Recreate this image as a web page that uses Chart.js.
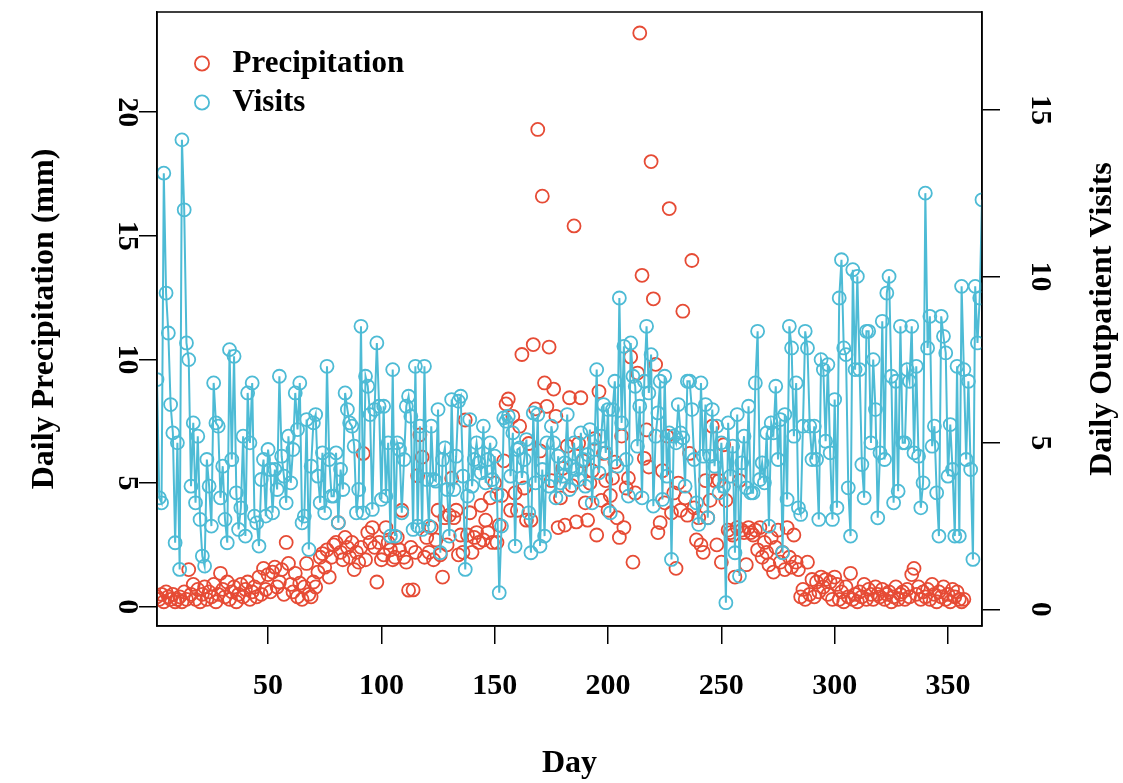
<!DOCTYPE html>
<html>
<head>
<meta charset="utf-8">
<script src="https://cdn.jsdelivr.net/npm/chart.js@4.4.1/dist/chart.umd.min.js"></script>
<style>
  html, body { margin: 0; padding: 0; background: #fff; }
  #wrap { width: 1123px; height: 783px; }
</style>
</head>
<body>
<div id="wrap"><canvas id="myChart" width="1123" height="783"></canvas></div>
<script>
/*-------------------------
values
--------------------------*/
var dayTicks = [50, 100, 150, 200, 250, 300, 350];
var precipTicks = [0, 5, 10, 15, 20];
var visitTicks = [0, 5, 10, 15];

// daily precipitation (mm), day 1..365
var precipitation = [
  0.4, 0.3, 0.5, 0.2, 0.6, 0.4, 0.3, 0.5, 0.2, 0.3,
  0.4, 0.2, 0.6, 0.3, 1.5, 0.5, 0.9, 0.3, 0.7, 0.2,
  0.5, 0.8, 0.3, 0.6, 0.4, 0.9, 0.2, 0.5, 1.35, 0.7,
  0.4, 1.0, 0.3, 0.6, 0.8, 0.2, 0.5, 0.9, 0.4, 0.7,
  1.0, 0.3, 0.6, 0.8, 0.4, 1.2, 0.5, 1.55, 0.7, 1.3,
  0.6, 1.4, 1.6, 0.8, 1.0, 1.5, 0.5, 2.6, 1.75, 0.9,
  0.6, 1.35, 0.4, 0.95, 0.3, 0.8, 1.75, 0.5, 0.4, 1.0,
  0.8, 1.4, 2.0, 2.15, 1.6, 2.3, 1.2, 2.0, 2.5, 2.6,
  3.4, 2.2, 1.9, 2.8, 2.4, 2.0, 2.6, 1.5, 2.2, 1.8,
  2.4, 6.2, 1.9, 3.0, 2.6, 3.2, 2.4, 1.0, 2.6, 1.9,
  2.1, 3.2, 2.6, 2.3, 1.9, 2.0, 2.8, 2.3, 3.9, 2.0,
  1.8, 0.67, 2.4, 0.68, 2.2, 5.3, 6.95, 6.05, 2.0, 2.8,
  2.2, 3.2, 1.9, 2.7, 3.9, 2.1, 1.2, 3.6, 2.5, 3.7,
  5.2, 3.6, 3.9, 2.1, 2.9, 2.2, 7.55, 2.9, 3.8, 2.2,
  2.8, 3.0, 2.6, 4.1, 2.7, 3.5, 3.0, 4.4, 2.6, 5.0,
  2.6, 3.3, 4.5, 5.9, 8.2, 8.4, 3.9, 7.7, 4.6, 3.9,
  7.3, 10.2, 4.8, 3.5, 6.6, 3.5, 10.6, 8.0, 19.3, 6.3,
  16.6, 9.05, 8.1, 10.5, 5.1, 8.8, 7.7, 3.2, 4.4, 5.6,
  3.3, 6.5, 8.45, 4.9, 15.4, 3.43, 6.6, 8.45, 5.9, 4.2,
  3.5, 5.0, 5.5, 6.8, 2.9, 8.7, 4.3, 6.2, 5.1, 3.9,
  4.5, 5.2, 5.85, 3.6, 2.8, 6.9, 3.2, 4.8, 5.2, 10.1,
  1.8, 4.6, 9.45, 23.2, 13.4, 6.0, 7.15, 5.65, 18.0, 12.45,
  9.8, 3.0, 3.4, 5.5, 4.2, 6.9, 16.1, 3.8, 4.6, 1.55,
  5.0, 3.9, 11.95, 4.4, 3.7, 6.2, 14.0, 4.0, 2.7, 3.6,
  2.5, 2.2, 5.1, 3.6, 4.3, 7.3, 5.1, 2.5, 5.1, 1.8,
  6.55, 4.3, 3.1, 3.0, 2.9, 1.2, 3.2, 5.1, 3.1, 3.0,
  1.7, 3.2, 3.0, 2.9, 3.1, 2.3, 3.2, 2.0, 2.6, 2.2,
  1.7, 2.8, 1.4, 2.4, 3.1, 1.8, 2.2, 1.5, 3.2, 2.0,
  1.6, 2.9, 1.8, 1.5, 0.4, 0.7, 0.3, 1.8, 0.5, 1.1,
  0.4, 1.0, 0.6, 1.2, 0.8, 1.1, 0.5, 1.0, 0.3, 1.2,
  0.9, 0.3, 0.6, 0.2, 0.8, 0.4, 1.35, 0.3, 0.5, 0.2,
  0.6, 0.4, 0.9, 0.3, 0.7, 0.5, 0.3, 0.8, 0.5, 0.4,
  0.7, 0.3, 0.5, 0.6, 0.2, 0.4, 0.8, 0.3, 0.5, 0.6,
  0.3, 0.7, 0.4, 1.3, 1.55, 0.5, 0.8, 0.3, 0.6, 0.4,
  0.7, 0.3, 0.9, 0.5, 0.2, 0.6, 0.4, 0.8, 0.3, 0.5,
  0.2, 0.7, 0.4, 0.6, 0.3, 0.2, 0.3, null, null, null,
  null, null, null, null, null
];

// daily outpatient visits, day 1..365
var visits = [
  6.9, 3.35, 3.2, 13.1, 9.5, 8.3, 6.15, 5.3, 2.0, 5.0,
  1.2, 14.1, 12.0, 8.0, 7.5, 3.7, 5.6, 3.2, 5.2, 2.7,
  1.6, 1.3, 4.5, 3.7, 2.5, 6.8, 5.6, 5.5, 3.35, 4.3,
  2.7, 2.0, 7.8, 4.5, 7.6, 3.5, 2.4, 3.05, 5.2, 2.2,
  6.5, 5.0, 6.8, 2.8, 2.6, 1.9, 3.9, 4.5, 2.8, 4.8,
  4.2, 2.9, 4.2, 3.6, 7.0, 4.6, 4.0, 3.2, 5.2, 3.8,
  4.8, 6.5, 5.4, 6.8, 2.6, 2.8, 5.7, 1.8, 4.3, 5.6,
  5.85, 4.0, 3.2, 4.7, 2.9, 7.3, 4.5, 3.4, 3.4, 4.7,
  2.6, 4.2, 3.6, 6.5, 6.0, 5.6, 5.5, 4.9, 2.9, 3.6,
  8.5, 2.9, 7.0, 6.7, 5.85, 3.0, 6.0, 8.0, 6.1, 3.3,
  6.1, 3.4, 5.0, 2.2, 7.2, 2.2, 5.0, 4.8, 2.9, 4.5,
  6.1, 6.4, 5.8, 2.4, 7.3, 2.5, 5.5, 2.4, 7.3, 3.9,
  2.5, 5.5, 3.9, 3.85, 6.0, 1.7, 4.5, 4.85, 3.6, 2.2,
  6.3, 3.6, 4.6, 6.25, 6.4, 4.0, 1.2, 3.4, 5.7, 3.7,
  4.5, 5.0, 4.4, 4.1, 5.5, 3.8, 4.5, 5.0, 3.9, 4.6,
  3.45, 0.5, 2.5, 5.75, 5.65, 5.8, 4.0, 5.3, 1.9, 4.8,
  4.85, 3.95, 4.5, 5.1, 2.9, 1.7, 5.9, 3.8, 5.85, 1.9,
  4.2, 2.2, 5.0, 3.7, 5.5, 5.0, 3.35, 4.6, 3.8, 4.0,
  4.4, 5.85, 3.6, 4.3, 5.0, 4.2, 3.9, 5.3, 4.5, 3.7,
  4.65, 5.4, 3.2, 4.8, 7.2, 4.1, 5.2, 6.15, 4.7, 6.0,
  2.9, 6.0, 6.85, 4.3, 9.35, 5.6, 7.9, 4.5, 3.4, 8.0,
  7.0, 6.7, 4.9, 6.1, 3.35, 6.85, 8.5, 6.5, 7.65, 3.1,
  5.2, 5.9, 6.85, 3.3, 7.0, 4.0, 5.3, 1.5, 5.2, 5.0,
  6.15, 5.3, 5.15, 3.7, 6.85, 6.85, 6.0, 4.5, 3.2, 2.55,
  6.8, 4.6, 6.15, 2.75, 4.6, 6.0, 4.3, 5.5, 3.5, 5.0,
  3.7, 0.2, 5.6, 4.0, 4.9, 1.7, 5.85, 1.0, 4.4, 5.2,
  3.65, 6.1, 3.5, 3.5, 6.8, 8.35, 3.9, 4.4, 3.8, 5.3,
  2.5, 5.6, 5.3, 6.7, 4.5, 5.7, 1.7, 5.85, 3.3, 8.5,
  7.85, 5.2, 6.8, 3.05, 2.85, 5.5, 8.35, 7.85, 5.5, 4.5,
  5.5, 4.5, 2.7, 7.5, 7.2, 5.05, 7.35, 4.7, 2.7, 6.3,
  3.05, 9.35, 10.5, 7.85, 7.65, 3.65, 2.2, 10.2, 7.2, 10.0,
  7.2, 4.35, 3.35, 8.35, 8.35, 5.0, 7.5, 6.0, 2.75, 4.7,
  8.65, 4.5, 9.5, 10.0, 7.0, 3.2, 6.85, 3.55, 8.5, 5.0,
  5.0, 7.2, 6.85, 8.5, 4.7, 7.3, 4.6, 3.05, 3.8, 12.5,
  7.85, 8.8, 4.9, 5.5, 3.5, 2.2, 8.8, 8.2, 7.7, 4.0,
  5.55, 4.2, 2.2, 7.3, 2.2, 9.7, 7.2, 4.5, 6.85, 4.2,
  1.5, 9.7, 8.0, 9.35, 12.3
];

var days = precipitation.map(function (v, i) { return i + 1; });

var red = "#E64B35";
var blue = "#4DBBD5";
var serif = "'Liberation Serif', 'Times New Roman', serif";
var tickFont = { family: serif, size: 30, weight: 'bold' };
var titleFont = { family: serif, size: 32, weight: 'bold' };
var legendFont = { family: serif, size: 31, weight: 'bold' };

function points(values) {
  return days.map(function (d, i) { return { x: d, y: values[i] }; });
}

function noPad(s) {
  s.paddingTop = 0;
  s.paddingBottom = 0;
}

/*-------------------------
box, right title, legend nudge
--------------------------*/
var rBox = {
  id: 'rBox',
  afterLayout: function (chart) {
    chart.legend.left = chart.chartArea.left + 22;
    chart.legend.top = chart.chartArea.top + 28;
  },
  afterDraw: function (chart) {
    var a = chart.chartArea;
    var c = chart.ctx;
    c.save();
    c.strokeStyle = '#000';
    c.lineWidth = 1.5;
    c.strokeRect(a.left, a.top, a.right - a.left, a.bottom - a.top);
    c.translate(1103, (a.top + a.bottom) / 2);
    c.rotate(-Math.PI / 2);
    c.font = 'bold 32px ' + serif;
    c.fillStyle = '#000';
    c.textAlign = 'center';
    c.textBaseline = 'middle';
    c.fillText('Daily Outpatient Visits', 0, 0);
    c.restore();
  }
};

var ctx = document.getElementById("myChart").getContext('2d');
var myChart = new Chart(ctx, {
  type: 'line',
  data: {
    datasets: [{
      label: 'Precipitation',
      data: points(precipitation),
      yAxisID: 'y',
      showLine: false,
      borderColor: red,
      backgroundColor: 'rgba(0,0,0,0)',
      pointRadius: 6.5,
      pointHoverRadius: 6.5,
      pointBorderWidth: 1.8,
      pointBorderColor: red,
      pointBackgroundColor: 'rgba(0,0,0,0)',
      clip: 0,
      order: 2
    }, {
      label: 'Visits',
      data: points(visits),
      yAxisID: 'y1',
      borderColor: blue,
      borderWidth: 2,
      backgroundColor: 'rgba(0,0,0,0)',
      tension: 0,
      pointRadius: 6.5,
      pointHoverRadius: 6.5,
      pointBorderWidth: 1.8,
      pointBorderColor: blue,
      pointBackgroundColor: 'rgba(0,0,0,0)',
      clip: 0,
      order: 1
    }]
  },
  options: {
    responsive: false,
    animation: false,
    devicePixelRatio: 1,
    events: [],
    layout: { padding: { top: 12, left: 0, right: 0, bottom: 0 } },
    scales: {
      x: {
        type: 'linear',
        position: 'bottom',
        min: 1,
        max: 365,
        afterBuildTicks: function (s) { s.ticks = dayTicks.map(function (v) { return { value: v }; }); },
        afterFit: function (s) { s.height = 157; },
        ticks: { font: tickFont, color: '#000', padding: 24, autoSkip: false, maxRotation: 0 },
        grid: { drawOnChartArea: false, drawTicks: true, tickLength: 18, color: '#000', lineWidth: 1.5 },
        border: { display: true, color: '#000', width: 1.5 },
        title: { display: true, text: 'Day', font: titleFont, color: '#000', padding: { top: 0, bottom: 0 } }
      },
      y: {
        type: 'linear',
        position: 'left',
        min: -0.78,
        max: 24.05,
        afterBuildTicks: function (s) { s.ticks = precipTicks.map(function (v) { return { value: v }; }); },
        afterFit: function (s) { s.width = 157; noPad(s); },
        ticks: { font: tickFont, color: '#000', padding: -3, autoSkip: false, minRotation: -90, maxRotation: -90, crossAlign: 'center' },
        grid: { drawOnChartArea: false, drawTicks: true, tickLength: 18, color: '#000', lineWidth: 1.5 },
        border: { display: true, color: '#000', width: 1.5 },
        title: { display: true, text: 'Daily Precipitation (mm)', font: titleFont, color: '#000', padding: { top: 26, bottom: 0 } }
      },
      y1: {
        type: 'linear',
        position: 'right',
        min: -0.5,
        max: 17.94,
        afterBuildTicks: function (s) { s.ticks = visitTicks.map(function (v) { return { value: v }; }); },
        afterFit: function (s) { s.width = 141; noPad(s); },
        ticks: { font: tickFont, color: '#000', padding: 25, autoSkip: false, minRotation: -90, maxRotation: -90, crossAlign: 'center' },
        grid: { drawOnChartArea: false, drawTicks: true, tickLength: 18, color: '#000', lineWidth: 1.5 },
        border: { display: true, color: '#000', width: 1.5 }
      }
    },
    plugins: {
      legend: {
        position: 'chartArea',
        align: 'start',
        labels: {
          usePointStyle: true,
          boxWidth: 30,
          boxHeight: 10,
          padding: 8,
          color: '#000',
          font: legendFont,
          sort: function (a, b) { return a.datasetIndex - b.datasetIndex; }
        }
      },
      tooltip: { enabled: false }
    }
  },
  plugins: [rBox]
});
</script>
</body>
</html>
